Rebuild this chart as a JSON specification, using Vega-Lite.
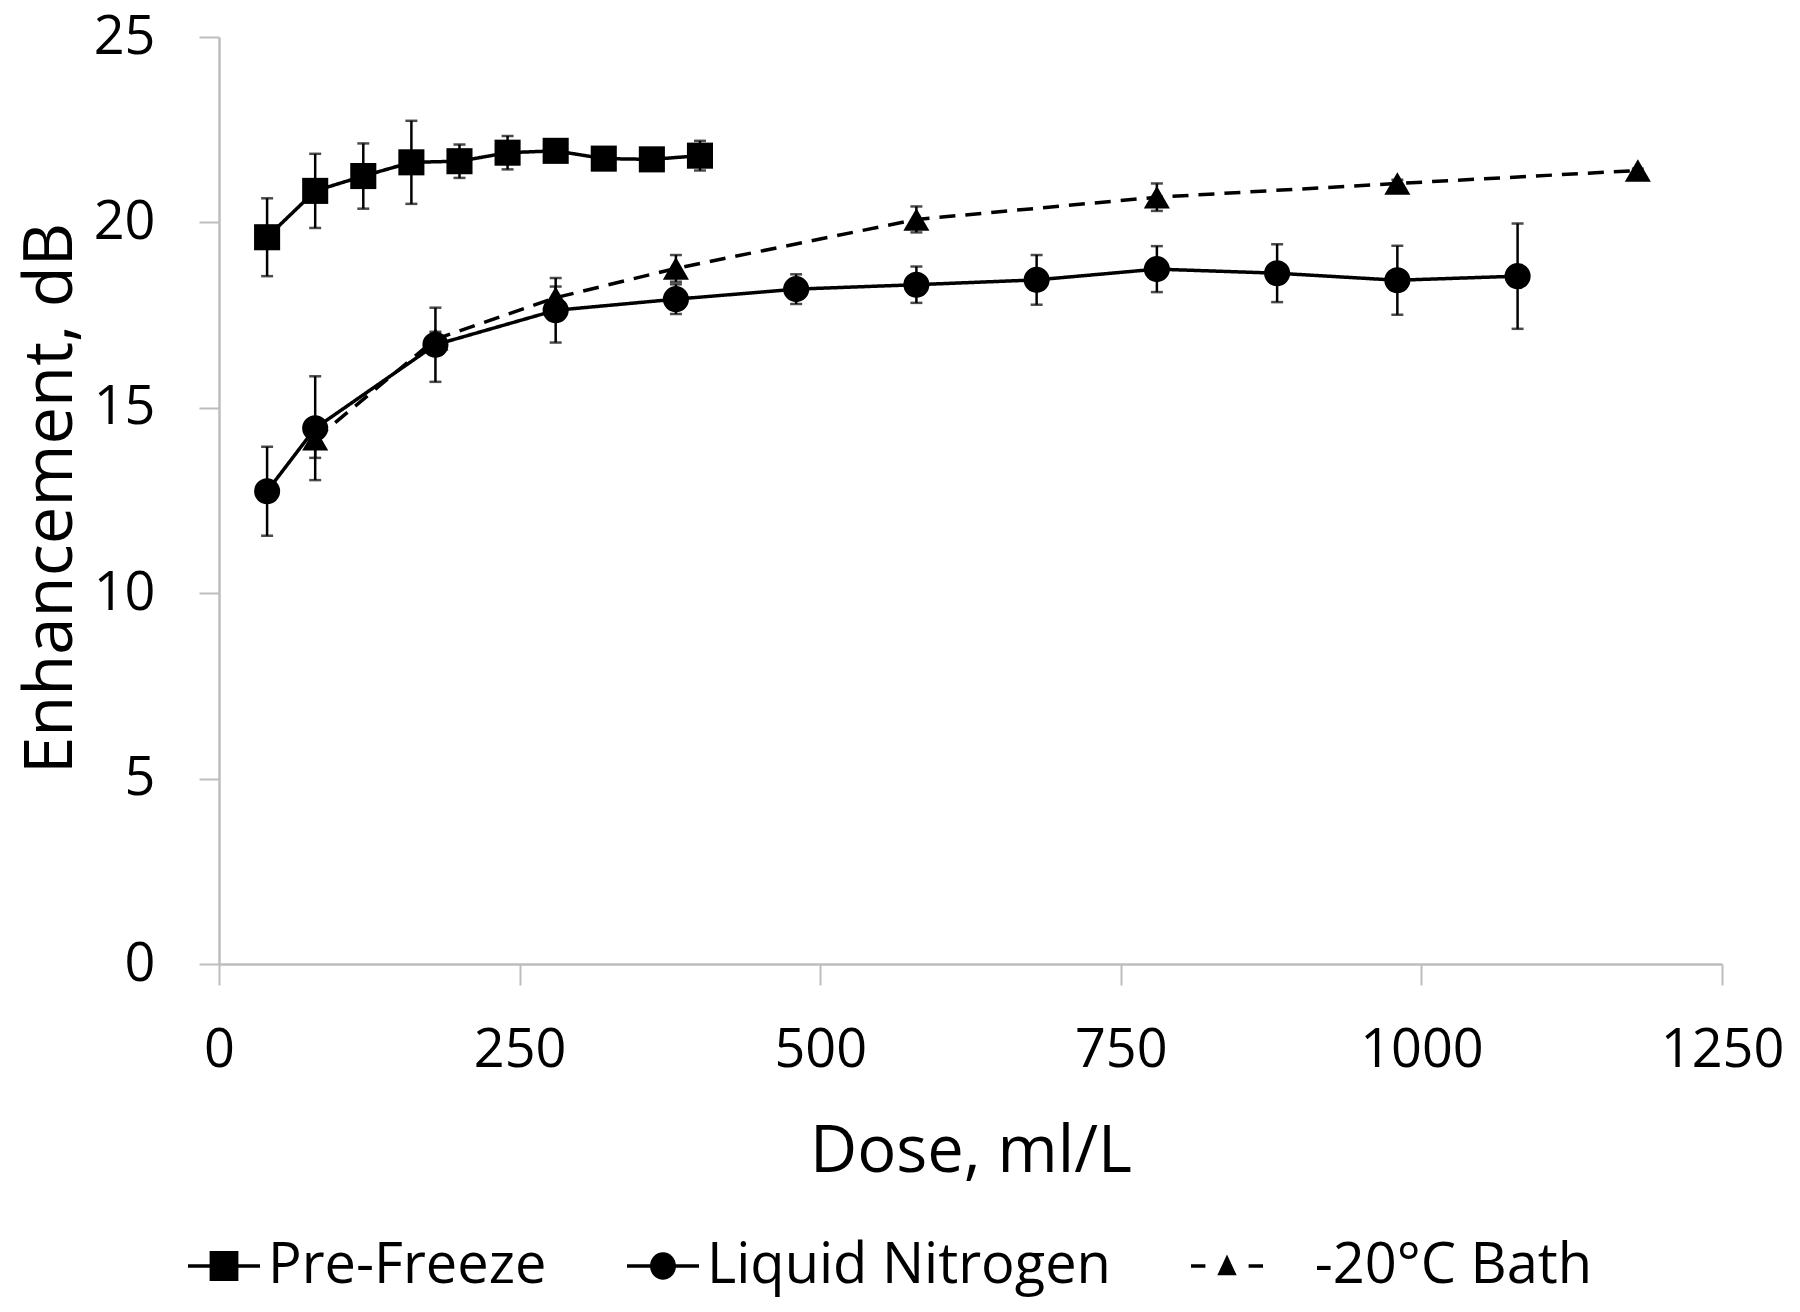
{
  "$schema": "https://vega.github.io/schema/vega-lite/v6.json",
  "width": 1503,
  "height": 927,
  "autosize": {"type": "none"},
  "padding": {"left": 219, "top": 37, "right": 78, "bottom": 348},
  "background": "white",
  "config": {"view": {"stroke": null}, "font": "Open Sans"},
  "data": {
    "values": [
      {"series": "Pre-Freeze", "dose": 40, "enh": 19.6, "err": 1.05},
      {"series": "Pre-Freeze", "dose": 80, "enh": 20.85, "err": 1.0},
      {"series": "Pre-Freeze", "dose": 120, "enh": 21.25, "err": 0.88},
      {"series": "Pre-Freeze", "dose": 160, "enh": 21.62, "err": 1.12},
      {"series": "Pre-Freeze", "dose": 200, "enh": 21.65, "err": 0.45},
      {"series": "Pre-Freeze", "dose": 240, "enh": 21.88, "err": 0.45},
      {"series": "Pre-Freeze", "dose": 280, "enh": 21.93, "err": 0.1},
      {"series": "Pre-Freeze", "dose": 320, "enh": 21.72, "err": 0.1},
      {"series": "Pre-Freeze", "dose": 360, "enh": 21.7, "err": 0.15},
      {"series": "Pre-Freeze", "dose": 400, "enh": 21.8, "err": 0.4},
      {"series": "Liquid Nitrogen", "dose": 40, "enh": 12.75, "err": 1.2},
      {"series": "Liquid Nitrogen", "dose": 80, "enh": 14.45, "err": 1.4},
      {"series": "Liquid Nitrogen", "dose": 180, "enh": 16.7, "err": 1.0},
      {"series": "Liquid Nitrogen", "dose": 280, "enh": 17.63, "err": 0.87},
      {"series": "Liquid Nitrogen", "dose": 380, "enh": 17.93, "err": 0.4},
      {"series": "Liquid Nitrogen", "dose": 480, "enh": 18.2, "err": 0.4},
      {"series": "Liquid Nitrogen", "dose": 580, "enh": 18.32, "err": 0.49},
      {"series": "Liquid Nitrogen", "dose": 680, "enh": 18.45, "err": 0.67},
      {"series": "Liquid Nitrogen", "dose": 780, "enh": 18.74, "err": 0.62},
      {"series": "Liquid Nitrogen", "dose": 880, "enh": 18.63, "err": 0.78},
      {"series": "Liquid Nitrogen", "dose": 980, "enh": 18.44, "err": 0.93},
      {"series": "Liquid Nitrogen", "dose": 1080, "enh": 18.55, "err": 1.42},
      {"series": "-20°C Bath", "dose": 80, "enh": 14.15, "err": 0.5},
      {"series": "-20°C Bath", "dose": 180, "enh": 16.85, "err": 0.2},
      {"series": "-20°C Bath", "dose": 280, "enh": 17.97, "err": 0.3},
      {"series": "-20°C Bath", "dose": 380, "enh": 18.76, "err": 0.36},
      {"series": "-20°C Bath", "dose": 580, "enh": 20.08, "err": 0.35},
      {"series": "-20°C Bath", "dose": 780, "enh": 20.68, "err": 0.37},
      {"series": "-20°C Bath", "dose": 980, "enh": 21.05, "err": 0.1},
      {"series": "-20°C Bath", "dose": 1180, "enh": 21.4, "err": 0.05}
    ]
  },
  "encoding": {
    "x": {
      "field": "dose",
      "type": "quantitative",
      "scale": {"domain": [0, 1250], "nice": false, "zero": false},
      "axis": {
        "values": [0, 250, 500, 750, 1000, 1250],
        "format": "d",
        "title": "Dose, ml/L",
        "grid": false,
        "domainColor": "#bdbdbd",
        "domainWidth": 2.5,
        "tickColor": "#bdbdbd",
        "tickWidth": 2,
        "tickSize": 21,
        "labelFontSize": 54,
        "labelColor": "#000000",
        "labelPadding": 38,
        "labelFlush": false,
        "labelOverlap": false,
        "labelBound": false,
        "titleFontSize": 65,
        "titleFontWeight": "normal",
        "titleColor": "#000000",
        "titleBaseline": "alphabetic",
        "titleY": 207
      }
    },
    "y": {
      "field": "enh",
      "type": "quantitative",
      "scale": {"domain": [0, 25], "nice": false},
      "axis": {
        "values": [0, 5, 10, 15, 20, 25],
        "title": "Enhancement, dB",
        "grid": false,
        "domainColor": "#bdbdbd",
        "domainWidth": 2.5,
        "tickColor": "#bdbdbd",
        "tickWidth": 2,
        "tickSize": 20,
        "labelFontSize": 54,
        "labelColor": "#000000",
        "labelPadding": 44,
        "labelOverlap": false,
        "labelBound": false,
        "labelFlush": false,
        "titleFontSize": 67,
        "titleFontWeight": "normal",
        "titleColor": "#000000",
        "titleBaseline": "alphabetic",
        "titleX": -148,
        "titleY": 461
      }
    }
  },
  "layer": [
    {
      "mark": {
        "type": "errorbar",
        "ticks": {"size": 12, "thickness": 2.5, "color": "black"},
        "rule": {"strokeWidth": 2.5, "color": "black"}
      },
      "encoding": {
        "yError": {"field": "err"}
      }
    },
    {
      "mark": {"type": "line", "color": "black", "strokeWidth": 3.5},
      "encoding": {
        "strokeDash": {
          "field": "series",
          "type": "nominal",
          "scale": {
            "domain": ["Pre-Freeze", "Liquid Nitrogen", "-20°C Bath"],
            "range": [[1, 0], [1, 0], [16, 10]]
          },
          "legend": null
        }
      }
    },
    {
      "mark": {"type": "point", "filled": true, "color": "black", "opacity": 1, "size": 680},
      "encoding": {
        "shape": {
          "field": "series",
          "type": "nominal",
          "scale": {
            "domain": ["Pre-Freeze", "Liquid Nitrogen", "-20°C Bath"],
            "range": ["square", "circle", "triangle-up"]
          },
          "legend": null
        }
      }
    },
    {
      "mark": {"type": "point", "filled": true, "color": "black", "opacity": 0},
      "encoding": {
        "shape": {
          "field": "series",
          "type": "nominal",
          "scale": {
            "domain": ["Pre-Freeze", "Liquid Nitrogen", "-20°C Bath"],
            "range": [
              "M-1,-0.05H1V0.05H-1ZM-0.4,-0.42H0.4V0.42H-0.4Z",
              "M-1,-0.05H1V0.05H-1ZM-0.36,0A0.36,0.38 0 1,1 0.36,0A0.36,0.38 0 1,1 -0.36,0Z",
              "M-1,-0.05H-0.6V0.05H-1ZM0.6,-0.05H1V0.05H0.6ZM0,-0.32L0.27,0.26L-0.27,0.26Z"
            ]
          },
          "legend": {
            "title": null,
            "orient": "none",
            "direction": "horizontal",
            "legendX": -31,
            "legendY": 1193,
            "symbolSize": 5184,
            "symbolFillColor": "black",
            "symbolStrokeColor": "black",
            "symbolStrokeWidth": 0,
            "symbolOpacity": 1,
            "labelFontSize": 56,
            "labelColor": "#000000",
            "labelOffset": 8,
            "columnPadding": 80,
            "labelLimit": 1000,
            "labelExpr": "indexof(datum.label, 'Bath') >= 0 ? '\u200b\u00a0\u00a0\u00a0' + datum.label : datum.label",
            "encode": {
              "symbols": {
                "fill": {"value": "black"},
                "strokeWidth": {"value": 0},
                "opacity": {"value": 1}
              }
            }
          }
        }
      }
    }
  ],
  "resolve": {"scale": {"shape": "independent"}, "legend": {"shape": "independent"}}
}
